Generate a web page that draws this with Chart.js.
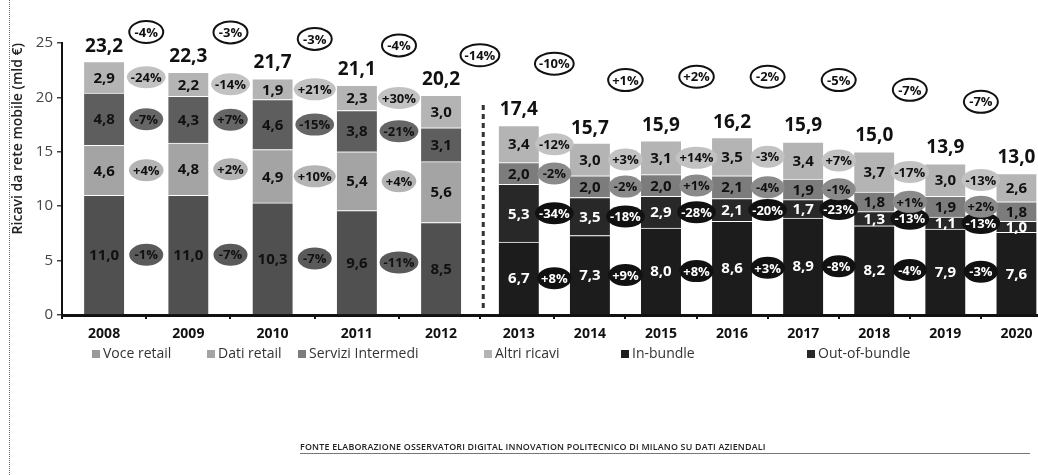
<!DOCTYPE html>
<html>
<head>
<meta charset="utf-8">
<script src="https://cdn.jsdelivr.net/npm/chart.js@4.4.1/dist/chart.umd.min.js"></script>
<style>
  html, body { margin: 0; padding: 0; background: #fff; overflow: hidden; }
  #wrap { position: relative; width: 1038px; height: 475px; overflow: hidden; }
  #chart { position: absolute; left: 0; top: 0; }
  .edge { position: absolute; left: 9px; top: 0; height: 475px; border-left: 1px dotted #666; }
  #legend { position: absolute; left: 0; top: 343px; width: 1038px; height: 20px;
            font: 14px "Open Sans", sans-serif; color: #333; }
  #legend span { position: absolute; white-space: nowrap; }
  #legend i { display: inline-block; width: 8px; height: 8px; margin-right: 3px; vertical-align: 0px; }
  #source { position: absolute; left: 300px; top: 440px; width: 730px; border-bottom: 1px solid #777;
            font: 600 8.9px "Open Sans", sans-serif; color: #222; letter-spacing: 0.2px; }
</style>
</head>
<body>
<div id="wrap">
  <div class="edge"></div>
  <canvas id="chart" width="1056" height="475"></canvas>
  <div id="legend"></div>
  <div id="source">FONTE ELABORAZIONE OSSERVATORI DIGITAL INNOVATION POLITECNICO DI MILANO SU DATI AZIENDALI</div>
</div>
<script>
// data (mld €)
const years = ["2008", "2009", "2010", "2011", "2012", "2013", "2014", "2015", "2016", "2017", "2018", "2019", "2020"];
const voceRetail = [11.0, 11.0, 10.3, 9.6, 8.5, null, null, null, null, null, null, null, null];
const datiRetail = [4.6, 4.8, 4.9, 5.4, 5.6, null, null, null, null, null, null, null, null];
const inBundle = [null, null, null, null, null, 6.7, 7.3, 8.0, 8.6, 8.9, 8.2, 7.9, 7.6];
const outOfBundle = [null, null, null, null, null, 5.3, 3.5, 2.9, 2.1, 1.7, 1.3, 1.1, 1.0];
const serviziIntermedi = [4.8, 4.3, 4.6, 3.8, 3.1, 2.0, 2.0, 2.0, 2.1, 1.9, 1.8, 1.9, 1.8];
const altriRicavi = [2.9, 2.2, 1.9, 2.3, 3.0, 3.4, 3.0, 3.1, 3.5, 3.4, 3.7, 3.0, 2.6];
const totals = [23.2, 22.3, 21.7, 21.1, 20.2, 17.4, 15.7, 15.9, 16.2, 15.9, 15.0, 13.9, 13.0];

// % change from year i to year i+1
const totalChange = [-4, -3, -3, -4, -14, -10, 1, 2, -2, -5, -7, -7];
const voceChange = [-1, -7, -7, -11];
const datiChange = [4, 2, 10, 4];
const inBundleChange = [null, null, null, null, null, 8, 9, 8, 3, -8, -4, -3];
const outBundleChange = [null, null, null, null, null, -34, -18, -28, -20, -23, -13, -13];
const serviziChange = [-7, 7, -15, -21, null, -2, -2, 1, -4, -1, 1, 2];
const altriChange = [-24, -14, 21, 30, null, -12, 3, 14, -3, 7, -17, -13];

const FIRST_GROUP = 5;     // 2008-2012 drawn wider than 2013-2020
const WIDE_RATIO = 1.185;

// category scale where the first group of years gets wider slots
class SplitCategoryScale extends Chart.CategoryScale {
  slotWidths() {
    const n2 = this._valueRange - FIRST_GROUP;
    const w2 = this._length / (FIRST_GROUP * WIDE_RATIO + n2);
    return [w2 * WIDE_RATIO, w2];
  }
  getPixelForDecimal(decimal) {
    const u = decimal * this._valueRange;
    const [w1, w2] = this.slotWidths();
    const px = u <= FIRST_GROUP ? u * w1 : FIRST_GROUP * w1 + (u - FIRST_GROUP) * w2;
    return this._startPixel + px;
  }
  getDecimalForPixel(pixel) {
    const [w1, w2] = this.slotWidths();
    const p = pixel - this._startPixel;
    const u = p <= FIRST_GROUP * w1 ? p / w1 : FIRST_GROUP + (p - FIRST_GROUP * w1) / w2;
    return u / this._valueRange;
  }
}
SplitCategoryScale.id = "splitCategory";
SplitCategoryScale.defaults = Chart.CategoryScale.defaults;
Chart.register(SplitCategoryScale);

const FONT = '"Open Sans", sans-serif';
const fmt = (v) => v.toFixed(1).replace(".", ",");
const pct = (v) => (v > 0 ? "+" : v < 0 ? "-" : "") + Math.abs(v) + "%";

function pill(ctx, x, y, text, fill, color, stroke) {
  ctx.font = "bold 13px " + FONT;
  const rx = Math.max(ctx.measureText(text).width / 2 + 4, 17);
  ctx.beginPath();
  ctx.ellipse(x, y, rx, 11, 0, 0, Math.PI * 2);
  ctx.fillStyle = fill;
  ctx.fill();
  if (stroke) {
    ctx.lineWidth = 2;
    ctx.strokeStyle = stroke;
    ctx.stroke();
  }
  ctx.fillStyle = color;
  ctx.fillText(text, x, y + 1);
}

const annotations = {
  id: "annotations",
  afterDatasetsDraw(chart) {
    const { ctx } = chart;
    const xs = chart.scales.x;
    const ys = chart.scales.y;
    ctx.save();
    ctx.textAlign = "center";
    ctx.textBaseline = "middle";

    // dashed separator between the two breakdowns
    const sx = xs.getPixelForValue(FIRST_GROUP - 0.5);
    ctx.setLineDash([5, 4]);
    ctx.lineWidth = 3;
    ctx.strokeStyle = "#333";
    ctx.beginPath();
    ctx.moveTo(sx, ys.getPixelForValue(19.3));
    ctx.lineTo(sx, ys.getPixelForValue(0.4));
    ctx.stroke();
    ctx.setLineDash([]);

    // change ellipses between bars
    chart.data.datasets.forEach((ds, di) => {
      const bars = chart.getDatasetMeta(di).data;
      ds.data.forEach((v, i) => {
        const ch = ds.changes[i];
        if (v === null || ch === null || ch === undefined) return;
        const el = bars[i];
        const cy = (el.y + el.base) / 2;
        const nx = (el.x + bars[i + 1].x) / 2;
        pill(ctx, nx, cy, pct(ch), ds.pillColor(i), ds.pillText);
      });
    });

    // segment values
    chart.data.datasets.forEach((ds, di) => {
      const bars = chart.getDatasetMeta(di).data;
      ds.data.forEach((v, i) => {
        if (v === null) return;
        const el = bars[i];
        ctx.fillStyle = ds.labelColor;
        ctx.font = "bold 15px " + FONT;
        ctx.fillText(fmt(v), el.x, (el.y + el.base) / 2 + 1);
      });
    });

    // totals and their yearly change
    const bars = chart.getDatasetMeta(0).data;
    totals.forEach((t, i) => {
      const px = bars[i].x;
      ctx.fillStyle = "#111";
      ctx.font = "bold 19px " + FONT;
      ctx.fillText(fmt(t), px, ys.getPixelForValue(t) - 16);
      if (i < totalChange.length) {
        const top = ys.getPixelForValue(Math.max(t, totals[i + 1]));
        const cy = Math.max(top - (i < FIRST_GROUP ? 40 : 62), 32);
        pill(ctx, (px + bars[i + 1].x) / 2, cy, pct(totalChange[i]), "#fff", "#111", "#111");
      }
    });
    ctx.restore();
  },
};

const leftPart = (i) => i < FIRST_GROUP;

const datasets = [
  { label: "Voce retail", data: voceRetail, backgroundColor: "#505050",
    changes: voceChange, labelColor: "#111", pillColor: () => "#5a5a5a", pillText: "#111" },
  { label: "In-bundle", data: inBundle, backgroundColor: "#1c1c1c",
    changes: inBundleChange, labelColor: "#fff", pillColor: () => "#111", pillText: "#fff" },
  { label: "Dati retail", data: datiRetail, backgroundColor: "#a4a4a4",
    changes: datiChange, labelColor: "#111", pillColor: () => "#b4b4b4", pillText: "#111" },
  { label: "Out-of-bundle", data: outOfBundle, backgroundColor: "#282828",
    changes: outBundleChange, labelColor: "#fff", pillColor: () => "#111", pillText: "#fff" },
  { label: "Servizi Intermedi", data: serviziIntermedi,
    backgroundColor: (c) => (leftPart(c.dataIndex) ? "#5e5e5e" : "#7c7c7c"),
    changes: serviziChange, labelColor: "#111",
    pillColor: (i) => (leftPart(i) ? "#666" : "#8a8a8a"), pillText: "#111" },
  { label: "Altri ricavi", data: altriRicavi, backgroundColor: "#b4b4b4",
    changes: altriChange, labelColor: "#111", pillColor: () => "#c2c2c2", pillText: "#111" },
];
datasets.forEach((d) => {
  d.borderColor = "#fff";
  d.borderWidth = { top: 1, left: 0, right: 0, bottom: 0 };
  d.borderSkipped = false;
  d.barThickness = 40;
});

new Chart(document.getElementById("chart"), {
  type: "bar",
  data: { labels: years, datasets: datasets },
  options: {
    responsive: false,
    animation: false,
    layout: { padding: { top: 43, right: 4, bottom: 130, left: 0 } },
    plugins: { legend: { display: false }, tooltip: { enabled: false } },
    scales: {
      x: {
        type: "splitCategory",
        stacked: true,
        offset: true,
        afterFit: (s) => { s.height = 30; },
        border: { color: "#111", width: 3 },
        grid: { offset: true, drawOnChartArea: false, tickLength: 4, color: "#111", lineWidth: 2 },
        ticks: { padding: 7, color: "#111", font: { family: FONT, size: 14, weight: "bold" } },
      },
      y: {
        stacked: true,
        min: 0,
        max: 25,
        afterFit: (s) => { s.width = 62; },
        border: { color: "#111", width: 2 },
        grid: { drawOnChartArea: false, tickLength: 5, color: "#444", lineWidth: 1.5 },
        ticks: { stepSize: 5, padding: 4, color: "#444", font: { family: FONT, size: 15 } },
        title: {
          display: true,
          text: "Ricavi da rete mobile (mld €)",
          align: "end",
          color: "#222",
          padding: { top: 10, bottom: 0 },
          font: { family: FONT, size: 14, weight: "600" },
        },
      },
    },
  },
  plugins: [annotations],
});

// legend laid out as in the print
const legendItems = [
  ["Voce retail", "#9a9a9a", 92],
  ["Dati retail", "#a4a4a4", 207],
  ["Servizi Intermedi", "#7c7c7c", 298],
  ["Altri ricavi", "#b4b4b4", 484],
  ["In-bundle", "#1c1c1c", 621],
  ["Out-of-bundle", "#282828", 807],
];
const legend = document.getElementById("legend");
legendItems.forEach(([name, color, left]) => {
  const s = document.createElement("span");
  s.style.left = left + "px";
  s.innerHTML = '<i style="background:' + color + '"></i>' + name;
  legend.appendChild(s);
});
</script>
</body>
</html>
